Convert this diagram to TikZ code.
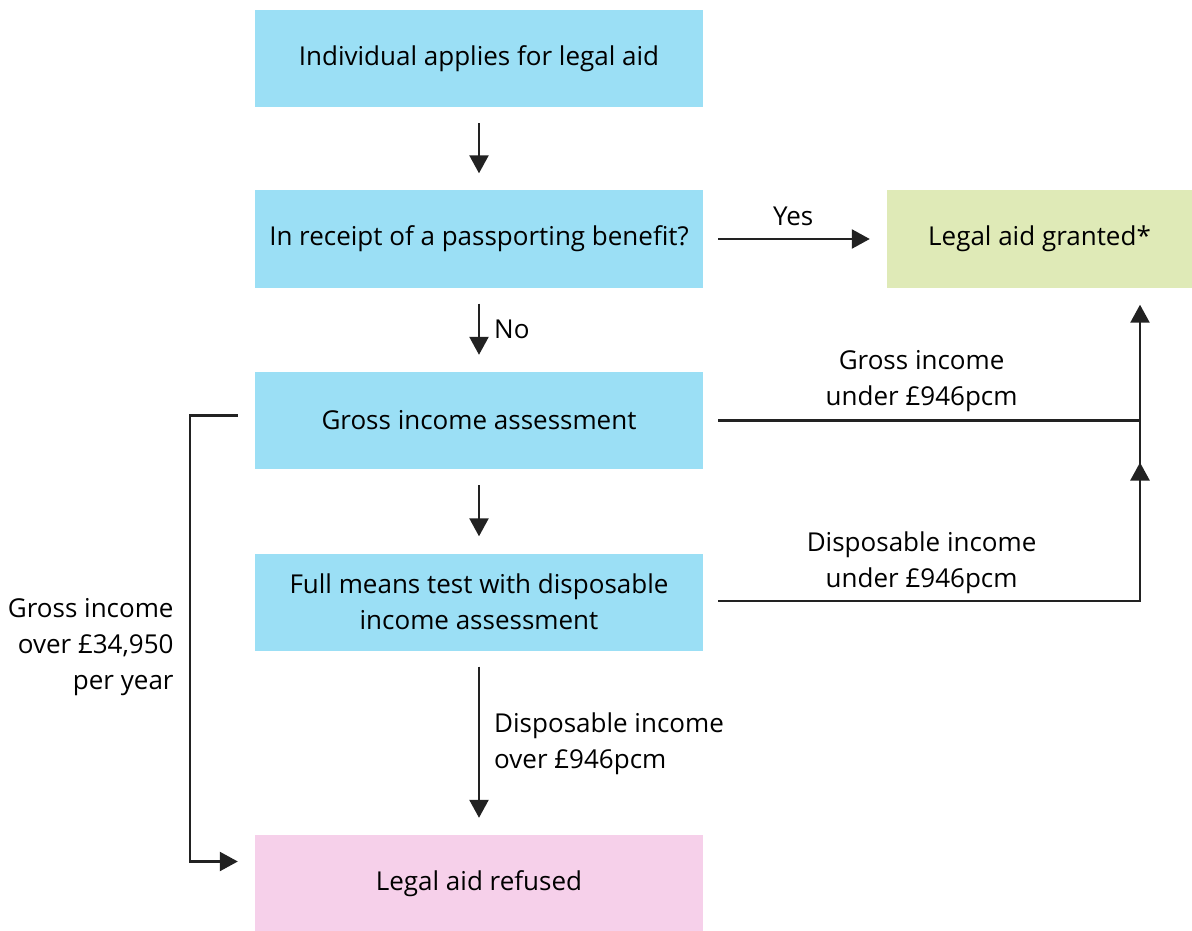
\documentclass[tikz,border=0pt]{standalone}
\usepackage{fontspec}
\setmainfont{Open Sans}
\usetikzlibrary{
    positioning,
    arrows.meta
    }

\definecolor{stageblue}{RGB}{155,223,245}
\definecolor{grantgreen}{RGB}{223,234,183}
\definecolor{refusepink}{RGB}{246,208,234}
\definecolor{inkgray}{RGB}{34,34,34}

\begin{document}
\begin{tikzpicture}[x=1pt, y=-1pt, font=\fontsize{26}{36}\selectfont]
\tikzset{stage/.style =
        {
            rectangle,
            fill=stageblue,
            minimum width=448pt,
            minimum height=97pt,
            inner sep=0pt,
            align=center
        }
}

\tikzset{granted/.style =
        {
            stage,
            fill=grantgreen,
            minimum width=305pt
        }
}

\tikzset{refused/.style =
        {
            stage,
            fill=refusepink
        }
}

\tikzset{flow/.style = {
            line width=2.4pt,
            inkgray,
            -{Triangle[length=18pt, width=19pt]},
            shorten <=16pt,
            shorten >=17pt
        }
}

\tikzset{route/.style = {
            line width=2.4pt,
            inkgray
        }
}

\tikzset{note/.style = {
            text=black,
            inner sep=4pt
        }
}

		\useasboundingbox (0,0) rectangle (1192,931);

		\node[stage] (apply) at (479,58.5) {Individual applies for legal aid};
		\node[stage] (passport) at (479,239) {In receipt of a passporting benefit?};
		\node[stage] (gross) at (479,420.5) {Gross income assessment};
		\node[stage] (means) at (479,602) {Full means test with disposable\\income assessment};
		\node[refused] (refuse) at (479,883.5) {Legal aid refused};
		\node[granted] (grant) at (1039.5,239) {Legal aid granted*};

		\coordinate (join) at (1140,420.5);
		\coordinate (meet) at (1140,601);

		\draw[flow] (apply) -- (passport);
		\draw[flow] (passport) -- node[note, right, xshift=10pt] {No} (gross);
		\draw[flow] (gross) -- (means);
		\draw[flow] (means) -- node[note, right, align=left, xshift=10pt, yshift=-7pt, pos=0.47] {Disposable income\\over £946pcm} (refuse);
		\draw[flow, shorten <=15pt] (passport) -- node[note, above, yshift=8pt, pos=0.49] {Yes} (grant);

		\draw[route, shorten <=15pt] (gross.east) -- node[note, above, align=center, yshift=4pt] {Gross income\\under £946pcm} (join);
		\draw[flow, shorten <=0pt] (join) -- (grant.south -| join);
		\draw[route, shorten <=15pt] (means.east |- meet) -- node[note, above, align=center, yshift=2pt] {Disposable income\\under £946pcm} (meet) -- (join);
		\draw[flow, shorten <=0pt, shorten >=0pt] (meet) -- ([yshift=-42pt]join);

		\draw[flow, shorten <=17pt, shorten >=17pt] ([yshift=5pt]gross.west) -- ++(-65pt,0)
			|- node[note, left, align=right, xshift=-11pt, yshift=18pt, pos=0.28] {Gross income\\over £34,950\\per year} ([yshift=22pt]refuse.west);

	\end{tikzpicture}
\end{document}
